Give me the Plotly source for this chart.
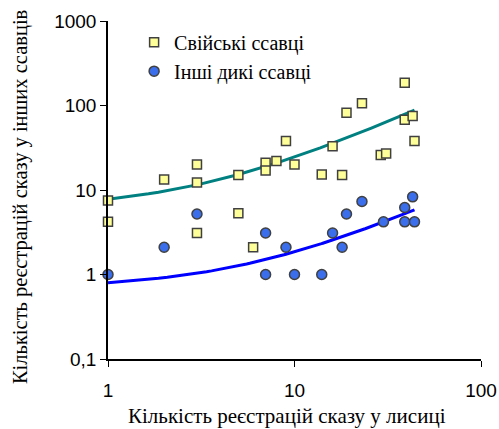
import numpy as np
import plotly.graph_objects as go

# Rabies registrations: fox counts (x) vs. counts in other mammals (y)
domestic_x = [1, 1, 2, 3, 3, 3, 5, 5, 6, 7, 7, 8, 9, 10, 14, 16, 18, 19, 23, 29, 31, 39, 39, 43, 44]
domestic_y = [7.5, 4.2, 13.3, 20, 12.3, 3.1, 15, 5.3, 2.1, 21, 17, 22, 38, 20, 15.3, 33, 15, 82, 106, 26, 27, 186, 68, 75, 38]

wild_x = [1, 2, 3, 7, 7, 9, 10, 14, 16, 18, 19, 23, 30, 39, 39, 43, 44]
wild_y = [1, 2.1, 5.2, 3.1, 1, 2.1, 1, 1, 3.1, 2.1, 5.2, 7.3, 4.2, 6.2, 4.2, 8.3, 4.2]

# Linear trend lines (y = a + b*x), drawn over the fox-count range
domestic_trend = (5.93, 1.865)
wild_trend = (0.683, 0.117)
trend_x = np.linspace(1, 44, 200)

x_ticks = [1, 10, 100]
x_ticktext = ["1", "10", "100"]
y_ticks = [0.1, 1, 10, 100, 1000]
y_ticktext = ["0,1", "1", "10", "100", "1000"]

x_title = "Кількість реєстрацій сказу у лисиці"
y_title = "Кількість реєстрацій сказу у інших ссавців"

serif = "Liberation Serif, Times New Roman, serif"
sans = "Liberation Sans, Arial, sans-serif"

fig = go.Figure()

fig.add_trace(go.Scatter(
    x=trend_x, y=domestic_trend[0] + domestic_trend[1] * trend_x,
    mode="lines", line=dict(color="#008080", width=3), showlegend=False, hoverinfo="skip"))
fig.add_trace(go.Scatter(
    x=trend_x, y=wild_trend[0] + wild_trend[1] * trend_x,
    mode="lines", line=dict(color="#0000FF", width=3), showlegend=False, hoverinfo="skip"))

fig.add_trace(go.Scatter(
    x=domestic_x, y=domestic_y, mode="markers", name="Свійські ссавці",
    marker=dict(symbol="square", size=9, color="#FFFF99",
                line=dict(color="#404040", width=1.5)),
    cliponaxis=False))
fig.add_trace(go.Scatter(
    x=wild_x, y=wild_y, mode="markers", name="Інші дикі ссавці",
    marker=dict(symbol="circle", size=10, color="#3A6EEA",
                line=dict(color="#404040", width=1.5)),
    cliponaxis=False))

axis_common = dict(
    type="log", showgrid=False, zeroline=False, showline=True, linecolor="black",
    linewidth=1.5, ticks="outside", ticklen=6, tickcolor="black", automargin=False,
    tickfont=dict(family=sans, size=19, color="black"))

fig.update_layout(
    width=499, height=429,
    margin=dict(l=108, r=18, t=21, b=70),
    paper_bgcolor="white", plot_bgcolor="white",
    showlegend=True,
    legend=dict(x=0.07, y=0.995, xanchor="left", yanchor="top",
                font=dict(family=serif, size=20, color="black"),
                bgcolor="rgba(0,0,0,0)", itemwidth=30, tracegroupgap=0),
    xaxis=dict(axis_common, range=[0, 2], tickvals=x_ticks, ticktext=x_ticktext,
               ticklabelstandoff=7),
    yaxis=dict(axis_common, range=[-1, 3], tickvals=y_ticks, ticktext=y_ticktext),
    annotations=[
        dict(text=x_title, xref="paper", yref="paper", x=0.481, y=-0.169,
             xanchor="center", yanchor="middle", showarrow=False,
             font=dict(family=serif, size=21, color="black")),
        dict(text=y_title, xref="paper", yref="paper", x=-0.236, y=0.479,
             xanchor="center", yanchor="middle", showarrow=False, textangle=-90,
             font=dict(family=serif, size=20.5, color="black")),
    ],
)

fig.write_html("out.html")
